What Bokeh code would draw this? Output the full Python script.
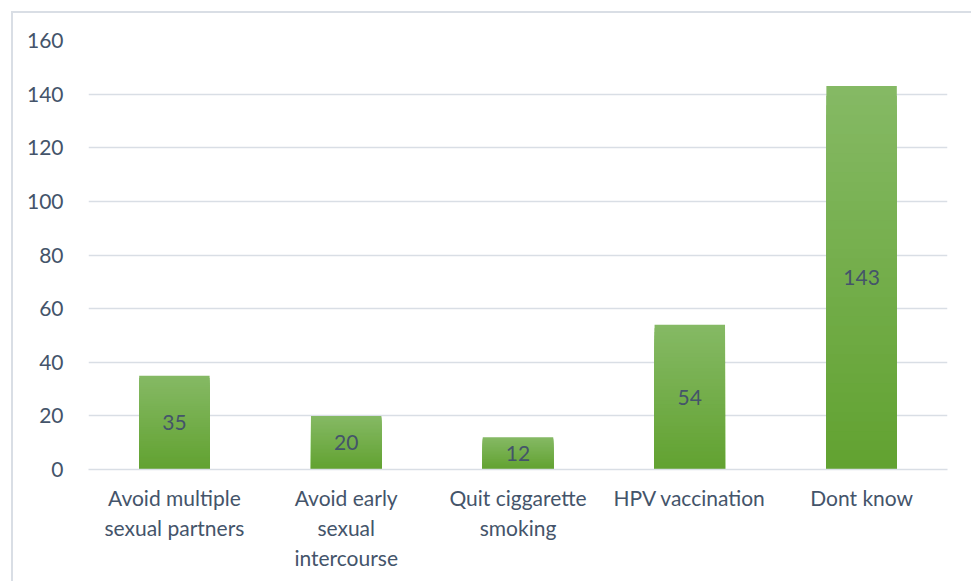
from bokeh.plotting import figure
from bokeh.models import ColumnDataSource, FactorRange, Range1d, FixedTicker
from bokeh.embed import file_html
from bokeh.resources import INLINE
from bokeh.core.properties import value

categories = ["Avoid multiple\nsexual partners", "Avoid early\nsexual\nintercourse",
              "Quit ciggarette\nsmoking", "HPV vaccination", "Dont know"]
counts = [35, 20, 12, 54, 143]
y_ticks = [0, 20, 40, 60, 80, 100, 120, 140, 160]

FONT = "Lato"
TEXT_COLOR = "#44546A"
TOP_COLOR = (0x85, 0xB9, 0x64)
BOTTOM_COLOR = (0x62, 0xA2, 0x31)
N_SLICES = 40

p = figure(x_range=FactorRange(*categories), y_range=Range1d(0, 160),
           width=960, height=570, output_backend="svg", toolbar_location=None,
           min_border_left=75, min_border_right=26, min_border_top=27, min_border_bottom=114)
p.margin = (11, 0, 0, 11)
p.styles = {"border-left": "2px solid #D9DEE5", "border-top": "2px solid #D9DEE5", "box-sizing": "border-box"}
p.outline_line_color = None
p.background_fill_color = "white"
p.border_fill_color = "white"

# gradient bars: nested slices from 0 up to a fraction of each bar's own height,
# drawn tallest (lightest) first so shorter, darker ones sit on top
xs, tops, colors = [], [], []
for c, v in zip(categories, counts):
    for i in reversed(range(N_SLICES)):
        t = i / (N_SLICES - 1)
        r = round(BOTTOM_COLOR[0] + (TOP_COLOR[0] - BOTTOM_COLOR[0]) * t)
        g = round(BOTTOM_COLOR[1] + (TOP_COLOR[1] - BOTTOM_COLOR[1]) * t)
        b = round(BOTTOM_COLOR[2] + (TOP_COLOR[2] - BOTTOM_COLOR[2]) * t)
        xs.append(c)
        tops.append(v * (i + 1) / N_SLICES)
        colors.append("#%02x%02x%02x" % (r, g, b))
src = ColumnDataSource(dict(x=xs, top=tops, color=colors))
p.vbar(x="x", bottom=0, top="top", width=0.41, fill_color="color", line_color=None, source=src)

lab = ColumnDataSource(dict(x=categories, y=[v / 2 for v in counts], t=[str(v) for v in counts]))
p.text(x="x", y="y", text="t", source=lab, text_align="center", text_baseline="middle",
       text_font=value(FONT), text_font_size="21px", text_color=TEXT_COLOR)

p.ygrid.ticker = FixedTicker(ticks=y_ticks)
p.ygrid.grid_line_color = "#D9DEE5"
p.ygrid.grid_line_width = 1.5
p.xgrid.grid_line_color = None

p.yaxis.ticker = FixedTicker(ticks=y_ticks)
p.yaxis.axis_line_color = None
p.yaxis.major_tick_line_color = None
p.yaxis.minor_tick_line_color = None
p.yaxis.major_label_standoff = 19
p.yaxis.major_label_text_font = FONT
p.yaxis.major_label_text_font_size = "21px"
p.yaxis.major_label_text_color = TEXT_COLOR

p.xaxis.axis_line_color = "#D9DEE5"
p.xaxis.axis_line_width = 1.5
p.xaxis.major_tick_line_color = None
p.xaxis.minor_tick_line_color = None
p.xaxis.major_label_standoff = 9
p.xaxis.major_label_text_font = FONT
p.xaxis.major_label_text_font_size = "21px"
p.xaxis.major_label_text_color = TEXT_COLOR
p.xaxis.major_label_text_line_height = 1.2

open("out.html", "w").write(file_html(p, INLINE))
